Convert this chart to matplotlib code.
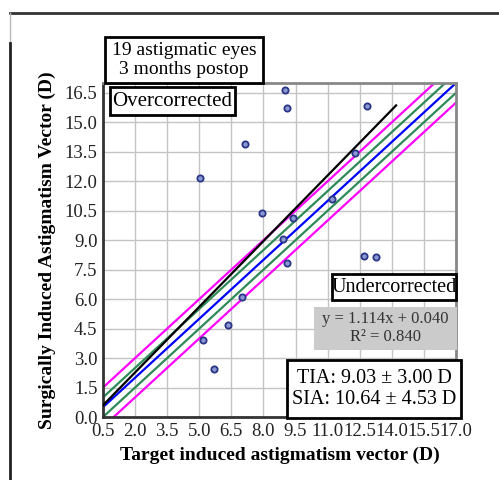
import matplotlib
matplotlib.use('Agg')
import numpy as np
import matplotlib.pyplot as plt
from matplotlib.patches import Rectangle
from matplotlib.lines import Line2D

plt.rcParams['font.family'] = ['Liberation Serif', 'DejaVu Serif']

# data (target vs surgically induced astigmatism, D)
tia = [7.14, 5.03, 7.95, 8.99, 9.09, 12.84, 12.28, 11.21, 9.40, 8.90,
       6.98, 6.34, 5.16, 5.70, 9.09, 12.72, 13.26]
sia = [13.88, 12.16, 10.38, 16.63, 15.73, 15.81, 13.42, 11.09, 10.11, 9.04,
       6.12, 4.67, 3.90, 2.44, 7.82, 8.19, 8.16]

slope, intercept = 1.114, 0.040
fit_range = [0.5, 14.2]
ticks = [0.5, 2.0, 3.5, 5.0, 6.5, 8.0, 9.5, 11.0, 12.5, 14.0, 15.5, 17.0]
yticks = [0.0, 1.5, 3.0, 4.5, 6.0, 7.5, 9.0, 10.5, 12.0, 13.5, 15.0, 16.5]
bands = [(1.0, '#ff00ff'), (0.5, '#2e8b57')]

W, H = 499, 480
fig = plt.figure(figsize=(W / 100, H / 100), dpi=100)
ax = fig.add_axes([103 / W, 1 - 417 / H, 353 / W, 334 / H])

# reference lines
xx = np.array([0.0, 18.0])
for off, c in bands:
    ax.plot(xx, xx + off, color=c, lw=1.6, zorder=2)
    ax.plot(xx, xx - off, color=c, lw=1.6, zorder=2)
ax.plot(xx, xx, color='#0000ff', lw=1.6, zorder=2)

# regression line
fx = np.array(fit_range)
ax.plot(fx, slope * fx + intercept, color='black', lw=1.6, zorder=3)

ax.plot(tia, sia, 'o', ms=4.5, mfc='#8a98d4', mec='#2b3585', mew=1.3, zorder=4)

ax.set_xlim(0.5, 17.0)
ax.set_ylim(0.0, 17.0)
ax.set_xticks(ticks)
ax.set_xticklabels([f'{t:.1f}' for t in ticks])
ax.set_yticks(yticks)
ax.set_yticklabels([f'{t:.1f}' for t in yticks])
ax.tick_params(length=0, labelsize=13.5, pad=4, colors='#222222')
ax.grid(True, color='#c4c4c4', lw=1)
ax.set_axisbelow(True)
for s in ['left', 'bottom']:
    ax.spines[s].set_color('#333333')
    ax.spines[s].set_linewidth(2)
for s in ['top', 'right']:
    ax.spines[s].set_color('#888888')
    ax.spines[s].set_linewidth(2)

ax.set_xlabel('Target induced astigmatism vector (D)', fontsize=14,
              fontweight='bold', labelpad=5)
ax.set_ylabel('Surgically Induced Astigmatism Vector (D)', fontsize=14,
              fontweight='bold', labelpad=6)


def box(x0, y0, x1, y1, fc='white', ec='black', lw=2):
    r = Rectangle((x0 / W, 1 - y1 / H), (x1 - x0) / W, (y1 - y0) / H,
                  transform=fig.transFigure, fc=fc, ec=ec, lw=lw, zorder=5)
    fig.add_artist(r)


def label(cx, cy, s, size=14, color='black', ls=1.1):
    fig.text(cx / W, 1 - cy / H, s, ha='center', va='center', fontsize=size,
             color=color, zorder=6, linespacing=ls)


box(105, 37, 263, 83)
label(184, 60, '19 astigmatic eyes\n3 months postop')
box(110, 87, 235, 115)
label(172, 101, 'Overcorrected', size=15)
box(332, 274, 456, 300)
label(394, 287, 'Undercorrected', size=14.5)
box(314, 307, 457, 350, fc='#cbcbcb', ec='none', lw=0)
label(385, 328, 'y = 1.114x + 0.040\nR² = 0.840', size=12, color='#333333')
box(287, 360, 461, 418)
label(374, 389, 'TIA: 9.03 ± 3.00 D\nSIA: 10.64 ± 4.53 D', size=14.5, ls=1.1)

# outer frame of the original figure
fig.add_artist(Line2D([10 / W, 1], [1 - 13 / H] * 2, transform=fig.transFigure,
                      color='#333333', lw=2))
fig.add_artist(Line2D([10 / W] * 2, [1 - 13 / H, 1 - 43 / H],
                      transform=fig.transFigure, color='#bbbbbb', lw=1))
fig.add_artist(Line2D([10 / W] * 2, [1 - 43 / H, 0], transform=fig.transFigure,
                      color='#222222', lw=2))

fig.savefig('out.png', dpi=100)
